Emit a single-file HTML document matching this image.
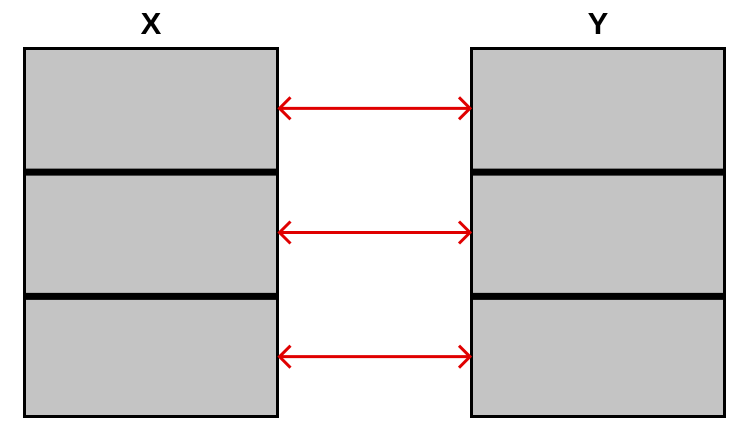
<!DOCTYPE html>
<html><head><meta charset="utf-8"><style>
html,body{margin:0;padding:0;background:#fff;width:750px;height:432px;overflow:hidden}
svg{display:block}
</style></head><body>
<svg width="750" height="432" viewBox="0 0 750 432">
<g id="boxes"></g>
<g id="arrows"></g>
</svg>
<script>
const ns='http://www.w3.org/2000/svg';
const columns=['X','Y'];
const columnX=[24.5,471.5];
const cellsPerColumn=3;
const links=[[0,0],[1,1],[2,2]];
const top0=48.5, boxW=253, boxH=368;
const cellH=boxH/cellsPerColumn;
function mk(t,a,p){const e=document.createElementNS(ns,t);for(const k in a)e.setAttribute(k,a[k]);p.appendChild(e);return e;}
const gB=document.getElementById('boxes'), gA=document.getElementById('arrows');
columns.forEach((c,i)=>{
  const x=columnX[i];
  const t=mk('text',{x:x+boxW/2,y:34,'text-anchor':'middle','font-family':'Liberation Sans, sans-serif','font-weight':'bold','font-size':'31',fill:'#000'},gB);
  t.textContent=c;
  
  
  const r=mk('rect',{x:x,y:top0,width:boxW,height:boxH,fill:'#c4c4c4',stroke:'#000','stroke-width':3},gB);
  
  
  for(let k=1;k<cellsPerColumn;k++){
    const y=top0+cellH*k+1+(k-1)*1.5;
    const l=mk('line',{x1:x,x2:x+boxW,y1:y,y2:y,stroke:'#000','stroke-width':7},gB);
    
    
  }
});
links.forEach(([a,b])=>{
  const y=top0+cellH*a+cellH/2-1.5+a*1.5;
  const x1=columnX[0]+boxW+2, x2=columnX[1]-1.5;
  const g=mk('g',{stroke:'#e00000','stroke-width':3,fill:'none'},gA);
  
  
  mk('line',{x1:x1,x2:x2,y1:y,y2:y},g);
  mk('polyline',{points:`${x1+11},${y-11} ${x1},${y} ${x1+11},${y+11}`},g);
  mk('polyline',{points:`${x2-11},${y-11} ${x2},${y} ${x2-11},${y+11}`},g);
});
</script>
</body></html>
